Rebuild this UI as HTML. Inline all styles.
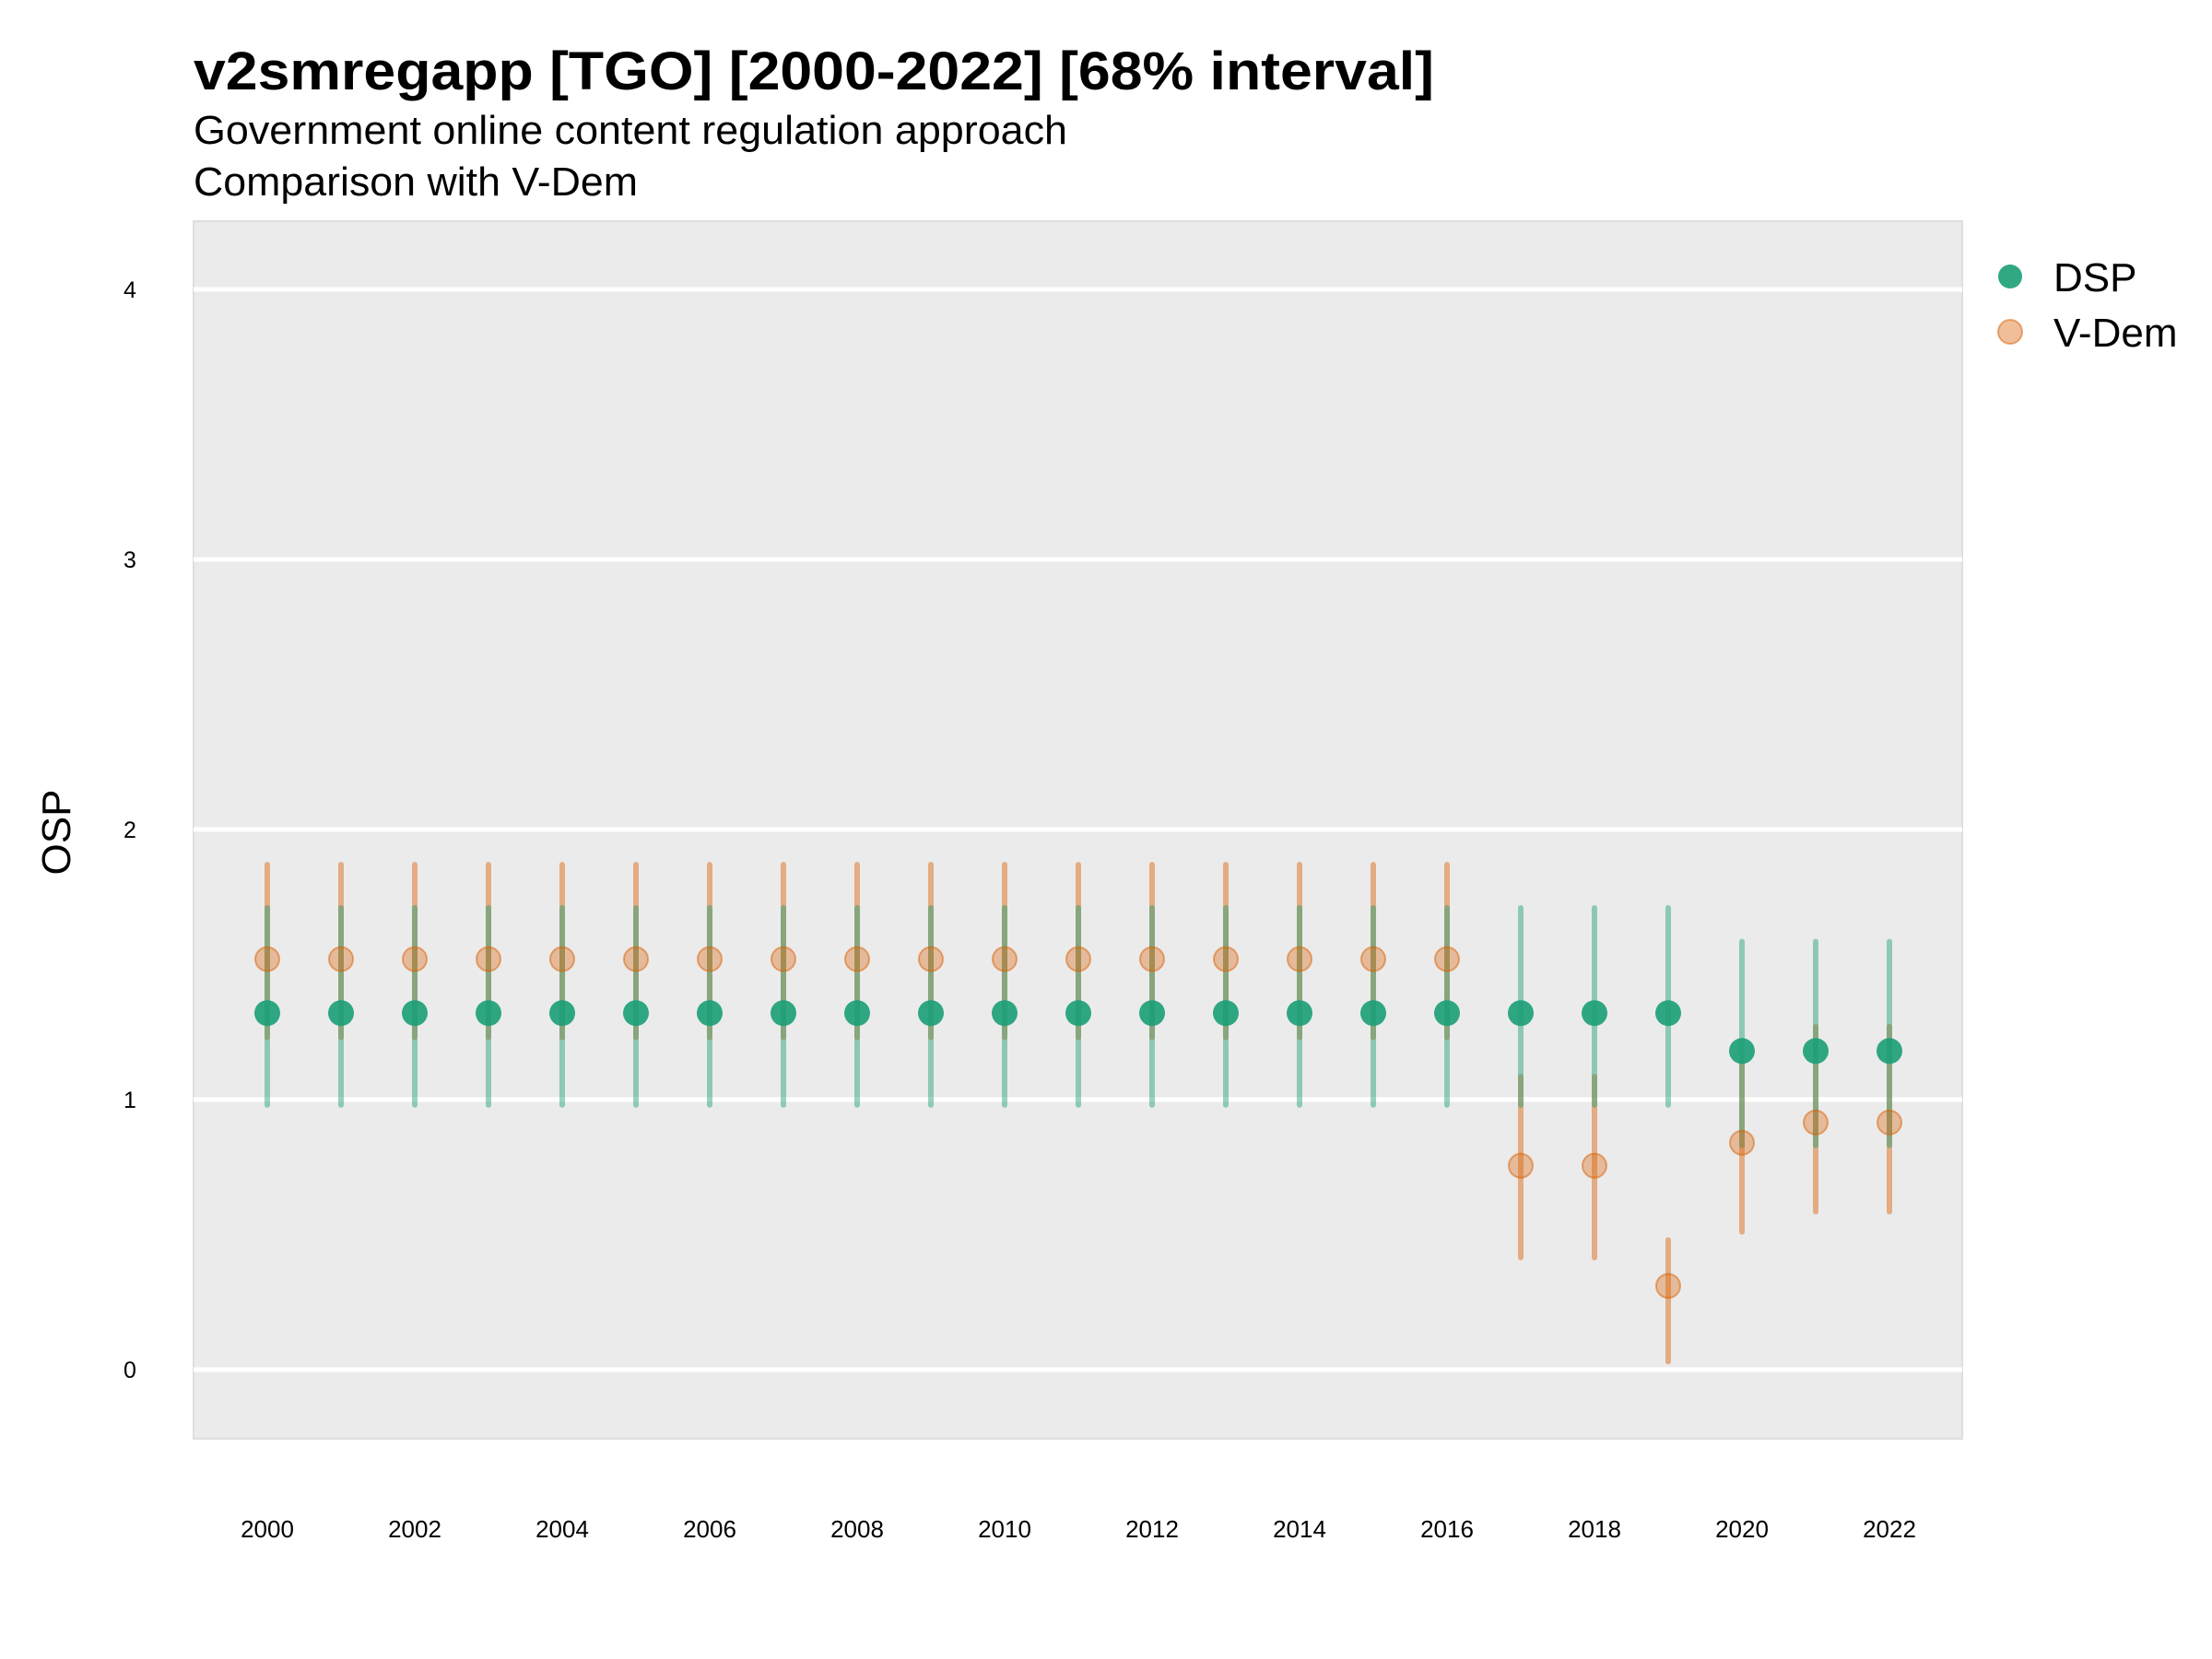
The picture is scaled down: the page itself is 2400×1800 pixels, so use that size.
<!DOCTYPE html>
<html><head><meta charset="utf-8"><style>html,body{margin:0;padding:0;background:#fff}svg{display:block}</style></head>
<body>
<svg width="2400" height="1800" viewBox="0 0 2400 1800" xmlns="http://www.w3.org/2000/svg" xmlns:xlink="http://www.w3.org/1999/xlink" font-family="Liberation Sans, sans-serif">
<defs>
<g id="A">
<line x1="0" x2="0" y1="1125.6" y2="938.1" stroke="#d95f02" stroke-opacity="0.45" stroke-width="6" stroke-linecap="round"/>
<line x1="0" x2="0" y1="1198.9" y2="985" stroke="#1b9e77" stroke-opacity="0.45" stroke-width="6" stroke-linecap="round"/>
<circle cx="0" cy="1040.6" r="13" fill="#d95f02" fill-opacity="0.35" stroke="#d95f02" stroke-opacity="0.5" stroke-width="2"/>
<circle cx="0" cy="1099.2" r="14" fill="#1b9e77" fill-opacity="0.9"/>
</g>
<g id="B">
<line x1="0" x2="0" y1="1364.4" y2="1168.1" stroke="#d95f02" stroke-opacity="0.45" stroke-width="6" stroke-linecap="round"/>
<line x1="0" x2="0" y1="1198.9" y2="985" stroke="#1b9e77" stroke-opacity="0.45" stroke-width="6" stroke-linecap="round"/>
<circle cx="0" cy="1264.8" r="13" fill="#d95f02" fill-opacity="0.35" stroke="#d95f02" stroke-opacity="0.5" stroke-width="2"/>
<circle cx="0" cy="1099.2" r="14" fill="#1b9e77" fill-opacity="0.9"/>
</g>
<g id="C">
<line x1="0" x2="0" y1="1477.2" y2="1345.4" stroke="#d95f02" stroke-opacity="0.45" stroke-width="6" stroke-linecap="round"/>
<line x1="0" x2="0" y1="1198.9" y2="985" stroke="#1b9e77" stroke-opacity="0.45" stroke-width="6" stroke-linecap="round"/>
<circle cx="0" cy="1395.2" r="13" fill="#d95f02" fill-opacity="0.35" stroke="#d95f02" stroke-opacity="0.5" stroke-width="2"/>
<circle cx="0" cy="1099.2" r="14" fill="#1b9e77" fill-opacity="0.9"/>
</g>
<g id="D">
<line x1="0" x2="0" y1="1336.6" y2="1152" stroke="#d95f02" stroke-opacity="0.45" stroke-width="6" stroke-linecap="round"/>
<line x1="0" x2="0" y1="1242.8" y2="1021.6" stroke="#1b9e77" stroke-opacity="0.45" stroke-width="6" stroke-linecap="round"/>
<circle cx="0" cy="1239.9" r="13" fill="#d95f02" fill-opacity="0.35" stroke="#d95f02" stroke-opacity="0.5" stroke-width="2"/>
<circle cx="0" cy="1140.3" r="14" fill="#1b9e77" fill-opacity="0.9"/>
</g>
<g id="E">
<line x1="0" x2="0" y1="1314.6" y2="1113.9" stroke="#d95f02" stroke-opacity="0.45" stroke-width="6" stroke-linecap="round"/>
<line x1="0" x2="0" y1="1242.8" y2="1021.6" stroke="#1b9e77" stroke-opacity="0.45" stroke-width="6" stroke-linecap="round"/>
<circle cx="0" cy="1217.9" r="13" fill="#d95f02" fill-opacity="0.35" stroke="#d95f02" stroke-opacity="0.5" stroke-width="2"/>
<circle cx="0" cy="1140.3" r="14" fill="#1b9e77" fill-opacity="0.9"/>
</g>
</defs>
<rect width="2400" height="1800" fill="#fff"/>
<text x="210" y="97" font-size="58" font-weight="bold" textLength="1346" lengthAdjust="spacingAndGlyphs">v2smregapp [TGO] [2000-2022] [68% interval]</text>
<text x="210" y="156" font-size="44" textLength="948" lengthAdjust="spacingAndGlyphs">Government online content regulation approach</text>
<text x="210" y="212" font-size="44" textLength="482" lengthAdjust="spacingAndGlyphs">Comparison with V-Dem</text>
<rect x="210" y="240" width="1919" height="1321" fill="#ebebeb" stroke="#dedede" stroke-width="2"/>
<g stroke="#fff" stroke-width="5">
<line x1="210" x2="2129" y1="1486" y2="1486"/><line x1="210" x2="2129" y1="1193" y2="1193"/>
<line x1="210" x2="2129" y1="900" y2="900"/><line x1="210" x2="2129" y1="607" y2="607"/>
<line x1="210" x2="2129" y1="314" y2="314"/>
</g>
<g font-size="25" text-anchor="middle" fill="#000">
<text x="141" y="1495">0</text><text x="141" y="1202">1</text><text x="141" y="909">2</text><text x="141" y="616">3</text><text x="141" y="323">4</text>
</g>
<text transform="translate(76,903) rotate(-90)" font-size="44" text-anchor="middle">OSP</text>
<use xlink:href="#A" href="#A" x="290"/><use xlink:href="#A" href="#A" x="370"/><use xlink:href="#A" href="#A" x="450"/>
<use xlink:href="#A" href="#A" x="530"/><use xlink:href="#A" href="#A" x="610"/><use xlink:href="#A" href="#A" x="690"/>
<use xlink:href="#A" href="#A" x="770"/><use xlink:href="#A" href="#A" x="850"/><use xlink:href="#A" href="#A" x="930"/>
<use xlink:href="#A" href="#A" x="1010"/><use xlink:href="#A" href="#A" x="1090"/><use xlink:href="#A" href="#A" x="1170"/>
<use xlink:href="#A" href="#A" x="1250"/><use xlink:href="#A" href="#A" x="1330"/><use xlink:href="#A" href="#A" x="1410"/>
<use xlink:href="#A" href="#A" x="1490"/><use xlink:href="#A" href="#A" x="1570"/>
<use xlink:href="#B" href="#B" x="1650"/><use xlink:href="#B" href="#B" x="1730"/>
<use xlink:href="#C" href="#C" x="1810"/>
<use xlink:href="#D" href="#D" x="1890"/>
<use xlink:href="#E" href="#E" x="1970"/><use xlink:href="#E" href="#E" x="2050"/>
<g font-size="26" text-anchor="middle">
<text x="290" y="1668">2000</text><text x="450" y="1668">2002</text><text x="610" y="1668">2004</text>
<text x="770" y="1668">2006</text><text x="930" y="1668">2008</text><text x="1090" y="1668">2010</text>
<text x="1250" y="1668">2012</text><text x="1410" y="1668">2014</text><text x="1570" y="1668">2016</text>
<text x="1730" y="1668">2018</text><text x="1890" y="1668">2020</text><text x="2050" y="1668">2022</text>
</g>
<circle cx="2181" cy="300" r="13" fill="#1b9e77" fill-opacity="0.9"/>
<text x="2228" y="316" font-size="44">DSP</text>
<circle cx="2181" cy="360" r="13" fill="#d95f02" fill-opacity="0.4" stroke="#d95f02" stroke-opacity="0.5" stroke-width="2"/>
<text x="2228" y="376" font-size="44">V-Dem</text>
</svg>
</body></html>
